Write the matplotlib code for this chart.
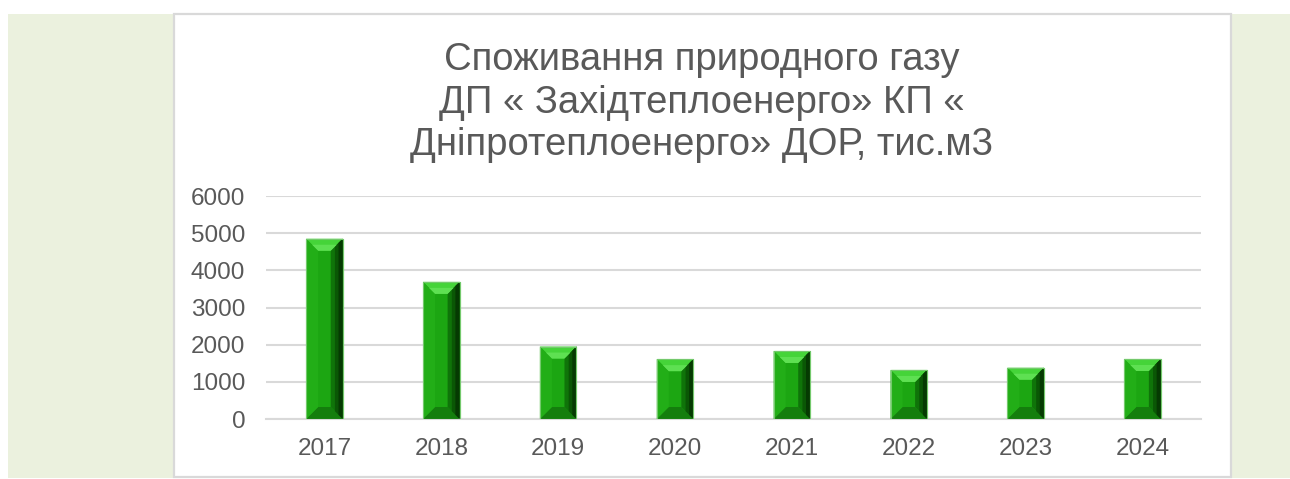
import matplotlib.pyplot as plt
from matplotlib.patches import Rectangle, Polygon

plt.rcParams["font.family"] = ["Liberation Sans", "DejaVu Sans"]

years = ["2017", "2018", "2019", "2020", "2021", "2022", "2023", "2024"]
gas = [4850, 3690, 1950, 1610, 1830, 1320, 1380, 1615]
yticks = [0, 1000, 2000, 3000, 4000, 5000, 6000]

title = ("Споживання природного газу\n"
         "ДП « Західтеплоенерго» КП «\n"
         "Дніпротеплоенерго» ДОР, тис.м3")

W, H = 1290, 479
fig = plt.figure(figsize=(W / 100, H / 100), dpi=100)
fig.patch.set_facecolor("white")

# light green page and white chart box
fig.patches.append(Rectangle((8 / W, 1 / H), 1 - 8 / W, 464 / H,
                             transform=fig.transFigure, facecolor="#EBF1DE",
                             edgecolor="none", zorder=0))
fig.patches.append(Rectangle((174 / W, 2 / H), 1057 / W, 463 / H,
                             transform=fig.transFigure, facecolor="white",
                             edgecolor="#D9D9D9", linewidth=1.6, zorder=1))

ax = fig.add_axes([266 / W, 60 / H, 935 / W, 223 / H])
ax.set_zorder(3)
ax.set_facecolor("none")
ax.set_xlim(-0.5, len(years) - 0.5)
ax.set_ylim(0, 6000)
ax.set_yticks(yticks)
ax.set_xticks(range(len(years)))
ax.set_xticklabels(years)
ax.yaxis.grid(True, color="#D9D9D9", linewidth=1.5)
ax.set_axisbelow(True)
for s in ["top", "right", "left"]:
    ax.spines[s].set_visible(False)
ax.spines["bottom"].set_color("#D9D9D9")
ax.spines["bottom"].set_linewidth(1.5)
ax.tick_params(axis="both", length=0, labelsize=17.5, labelcolor="#595959")
ax.tick_params(axis="y", pad=15)
ax.tick_params(axis="x", pad=14)

width = 0.313
bars = ax.bar(range(len(years)), gas, width=width, color="#1CA612",
              edgecolor="#74C96C", linewidth=0.8, zorder=2)

# bevel faces, 12 px deep
fig.canvas.draw()
p0 = ax.transData.transform((0, 0))
p1 = ax.transData.transform((1, 1000))
dx = 12 / (p1[0] - p0[0])
dy = 12 / (p1[1] - p0[1]) * 1000
for b in bars:
    x0 = b.get_x()
    x1 = x0 + b.get_width()
    top = b.get_height()
    faces = [
        ([(x0, top), (x1, top), (x1 - dx, top - dy), (x0 + dx, top - dy)], "#45D439"),
        ([(x0, 0), (x1, 0), (x1 - dx, dy), (x0 + dx, dy)], "#147E0D"),
        ([(x0, 0), (x0, top), (x0 + dx, top - dy), (x0 + dx, dy)], "#22AE17"),
        ([(x1, 0), (x1, top), (x1 - dx, top - dy), (x1 - dx, dy)], "#0F7409"),
    ]
    for pts, c in faces:
        ax.add_patch(Polygon(pts, closed=True, facecolor=c, edgecolor="none", zorder=3))
    # darker outer strips on the right face (gradient towards the edge)
    for f, c in [(0.65, "#0A5705"), (0.35, "#053A02")]:
        ax.add_patch(Polygon([(x1, 0), (x1, top), (x1 - dx * f, top - dy * f),
                              (x1 - dx * f, dy * f)], closed=True,
                             facecolor=c, edgecolor="none", zorder=3))
    # lighter inner band of the top face
    ax.add_patch(Polygon([(x0 + dx * 0.5, top - dy * 0.5), (x1 - dx * 0.5, top - dy * 0.5),
                          (x1 - dx, top - dy), (x0 + dx, top - dy)], closed=True,
                         facecolor="#5EE052", edgecolor="none", zorder=3))
    ax.add_patch(Rectangle((x0, 0), width, top, facecolor="none",
                           edgecolor="#74C96C", linewidth=0.8, zorder=4))

fig.text(702 / W, 1 - 42 / H, title, ha="center", va="top", fontsize=27.5,
         color="#595959", linespacing=1.24, zorder=5)

fig.savefig("out.png", dpi=100)
